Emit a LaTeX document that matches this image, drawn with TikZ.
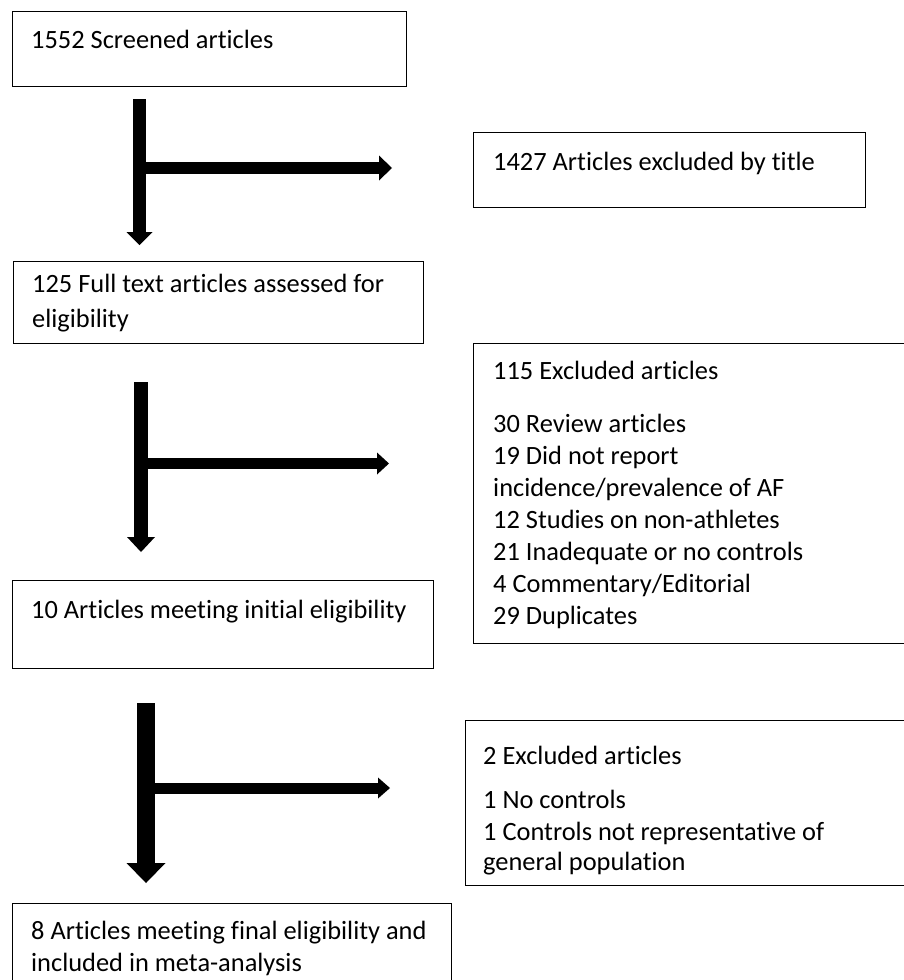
\documentclass[tikz,border=0pt]{standalone}
\usepackage{fontspec}
\setmainfont{Carlito}[Ligatures=NoCommon]
\usetikzlibrary{arrows.meta}
\newcommand{\boxfont}{\fontsize{26.4}{32}\selectfont}

\begin{document}
\begin{tikzpicture}[x=1pt,y=-1pt,
	box/.style={draw, line width=1.3pt, anchor=north west, inner sep=0pt},
	boxtext/.style={anchor=north west, inner sep=0pt, align=left, font=\boxfont},
	flow/.style n args={3}{line width=#1, -{Triangle[width=#2, length=#3, line width=0pt]}}]
	\useasboundingbox (0,0) rectangle (904,980);

	% left column
	\node[box, minimum width=394, minimum height=75] (screened) at (12,11) {};
	\node[boxtext] (screenedtxt) at ([shift={(19,14.6)}]screened.north west) {\strut 1552 Screened articles};
	\node[box, minimum width=410, minimum height=82] (fulltext) at (13,261) {};
	\node[boxtext] (fulltexttxt) at ([shift={(19,8.6)}]fulltext.north west) {\strut 125 Full text articles assessed for\\[3pt]eligibility};
	\node[box, minimum width=421, minimum height=88] (initial) at (12,580) {};
	\node[boxtext] (initialtxt) at ([shift={(19,15.6)}]initial.north west) {\strut 10 Articles meeting initial eligibility};
	\node[box, minimum width=439, minimum height=90] (final) at (12,903) {};
	\node[boxtext] (finaltxt) at ([shift={(19,13.6)}]final.north west) {\strut 8 Articles meeting final eligibility and\\included in meta-analysis};

	% right column
	\node[box, minimum width=392, minimum height=75] (bytitle) at (473,132) {};
	\node[boxtext] (bytitletxt) at ([shift={(20,15.6)}]bytitle.north west) {\strut 1427 Articles excluded by title};
	\node[box, minimum width=440, minimum height=300] (excl115) at (473,343) {};
	\node[boxtext] (excl115txt) at ([shift={(20,13.6)}]excl115.north west) {\strut 115 Excluded articles\\[21pt]
		30 Review articles\\
		19 Did not report\\
		incidence/prevalence of AF\\
		12 Studies on non-athletes\\
		21 Inadequate or no controls\\
		4 Commentary/Editorial\\
		29 Duplicates};
	\node[box, minimum width=445, minimum height=165] (excl2) at (465,720) {};
	\node[boxtext] (excl2txt) at ([shift={(18,21.6)}]excl2.north west) {\strut 2 Excluded articles\\[12pt]
		1 No controls\\
		1 Controls not representative of\\[-2pt]
		general population};

	% arrows
	\coordinate (a1top) at (139.5,99);
	\coordinate (a1tip) at (139.5,245);
	\coordinate (a1out) at (392,168);
	\draw[flow={13pt}{26pt}{13pt}] (a1top) -- (a1tip);
	\draw[flow={12pt}{25pt}{13pt}] (a1top |- a1out) -- (a1out);

	\coordinate (a2top) at (141,382);
	\coordinate (a2tip) at (141,552);
	\coordinate (a2out) at (389,463.5);
	\draw[flow={14pt}{28pt}{15pt}] (a2top) -- (a2tip);
	\draw[flow={11pt}{22pt}{12pt}] (a2top |- a2out) -- (a2out);

	\coordinate (a3top) at (146,703);
	\coordinate (a3tip) at (146,883);
	\coordinate (a3out) at (390,788);
	\draw[flow={18pt}{39pt}{20pt}] (a3top) -- (a3tip);
	\draw[flow={11pt}{21pt}{12pt}] (a3top |- a3out) -- (a3out);
\end{tikzpicture}
\end{document}
